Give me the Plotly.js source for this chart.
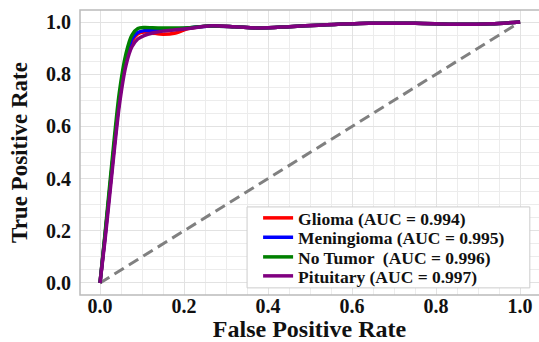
<!DOCTYPE html>
<html>
<head>
<meta charset="utf-8">
<script src="https://cdn.plot.ly/plotly-3.0.1.min.js"></script>
<style>html,body{margin:0;padding:0;background:#fff;}#chart{width:539px;height:342px;}</style>
</head>
<body>
<div id="chart"></div>
<script>
const seriesNames = ["Glioma (AUC = 0.994)", "Meningioma (AUC = 0.995)", "No Tumor  (AUC = 0.996)", "Pituitary (AUC = 0.997)"];
const fpr = [0, 0.012, 0.024, 0.046, 0.062, 0.076, 0.09, 0.105, 0.125, 0.15, 0.18, 0.21, 0.26, 0.32, 0.38, 0.45, 0.52, 0.64, 0.75, 0.85, 0.93, 1.0];
const tprGlioma     = [0, 0.18, 0.37, 0.70, 0.85, 0.925, 0.955, 0.962, 0.958, 0.953, 0.958, 0.975, 0.985, 0.982, 0.977, 0.982, 0.988, 0.995, 0.995, 0.991, 0.993, 1.0];
const tprMeningioma = [0, 0.18, 0.37, 0.70, 0.855, 0.935, 0.96, 0.967, 0.968, 0.97, 0.973, 0.977, 0.985, 0.982, 0.977, 0.982, 0.988, 0.995, 0.995, 0.991, 0.993, 1.0];
const tprNoTumor    = [0, 0.19, 0.39, 0.73, 0.88, 0.95, 0.975, 0.979, 0.978, 0.977, 0.977, 0.978, 0.985, 0.982, 0.977, 0.982, 0.988, 0.995, 0.995, 0.991, 0.993, 1.0];
const tprPituitary  = [0, 0.165, 0.35, 0.68, 0.835, 0.905, 0.935, 0.948, 0.958, 0.965, 0.97, 0.975, 0.985, 0.982, 0.977, 0.982, 0.988, 0.995, 0.995, 0.991, 0.993, 1.0];
const chanceX = [0, 1];
const chanceY = [0, 1];
const tickVals = [0, 0.2, 0.4, 0.6, 0.8, 1.0];
const tickText = ["0.0", "0.2", "0.4", "0.6", "0.8", "1.0"];

const colors = ["#ff0000", "#0000ff", "#008000", "#800080"];
const tprs = [tprGlioma, tprMeningioma, tprNoTumor, tprPituitary];
const legendIds = ["legend", "legend2", "legend3", "legend4"];
const legendRowY = [0.2702, 0.2018, 0.1333, 0.0667];

const serif = "Liberation Serif, Times New Roman, serif";

const traces = [{
  x: chanceX, y: chanceY, mode: "lines", showlegend: false, hoverinfo: "skip",
  line: {color: "#808080", width: 3, dash: "11px,6px"}
}];
tprs.forEach((t, i) => traces.push({
  x: fpr, y: t, mode: "lines", name: seriesNames[i], legend: legendIds[i],
  line: {color: colors[i], width: 3.5, shape: "spline", smoothing: 0.8}
}));

const tickFont = {family: serif, size: 20, weight: "bold", color: "#111"};
const axisCommon = {
  showline: false, zeroline: false, showgrid: true, gridcolor: "#e2e2e2", gridwidth: 1,
  minor: {dtick: 0.05, showgrid: true, gridcolor: "#ececec", gridwidth: 1, ticks: ""},
  tickvals: tickVals, ticktext: tickText, ticks: "", tickfont: tickFont
};

const layout = {
  width: 539, height: 342,
  margin: {l: 80, r: 0, t: 10, b: 47},
  paper_bgcolor: "#ffffff", plot_bgcolor: "#ffffff",
  showlegend: true,
  xaxis: Object.assign({}, axisCommon, {
    range: [-0.0476, 1.045], ticklabelstandoff: -3,
    title: {text: "False Positive Rate", standoff: 2, font: {family: serif, size: 24, weight: "bold", color: "#111"}}
  }),
  yaxis: Object.assign({}, axisCommon, {
    range: [-0.046, 1.046], ticklabelstandoff: 8,
    title: {text: "True Positive Rate", standoff: 11, font: {family: serif, size: 23, weight: "bold", color: "#111"}}
  }),
  shapes: [{
    type: "path", xref: "paper", yref: "paper",
    path: "M 1.02 0 L 0 0 L 0 1 L 1.02 1",
    line: {color: "#bbbbbb", width: 1.5}
  }, {
    type: "rect", xref: "paper", yref: "paper", layer: "above",
    x0: 0.364, x1: 0.98, y0: 0.025, y1: 0.309,
    fillcolor: "#ffffff", line: {color: "#cccccc", width: 1}
  }]
};
legendIds.forEach((id, i) => {
  layout[id] = {
    x: 0.388, y: legendRowY[i], xanchor: "left", yanchor: "middle",
    bgcolor: "rgba(0,0,0,0)", borderwidth: 0,
    font: {family: serif, size: 17.5, weight: "bold", color: "#111"}
  };
});

Plotly.newPlot("chart", traces, layout, {displayModeBar: false, staticPlot: true});
</script>
</body>
</html>
